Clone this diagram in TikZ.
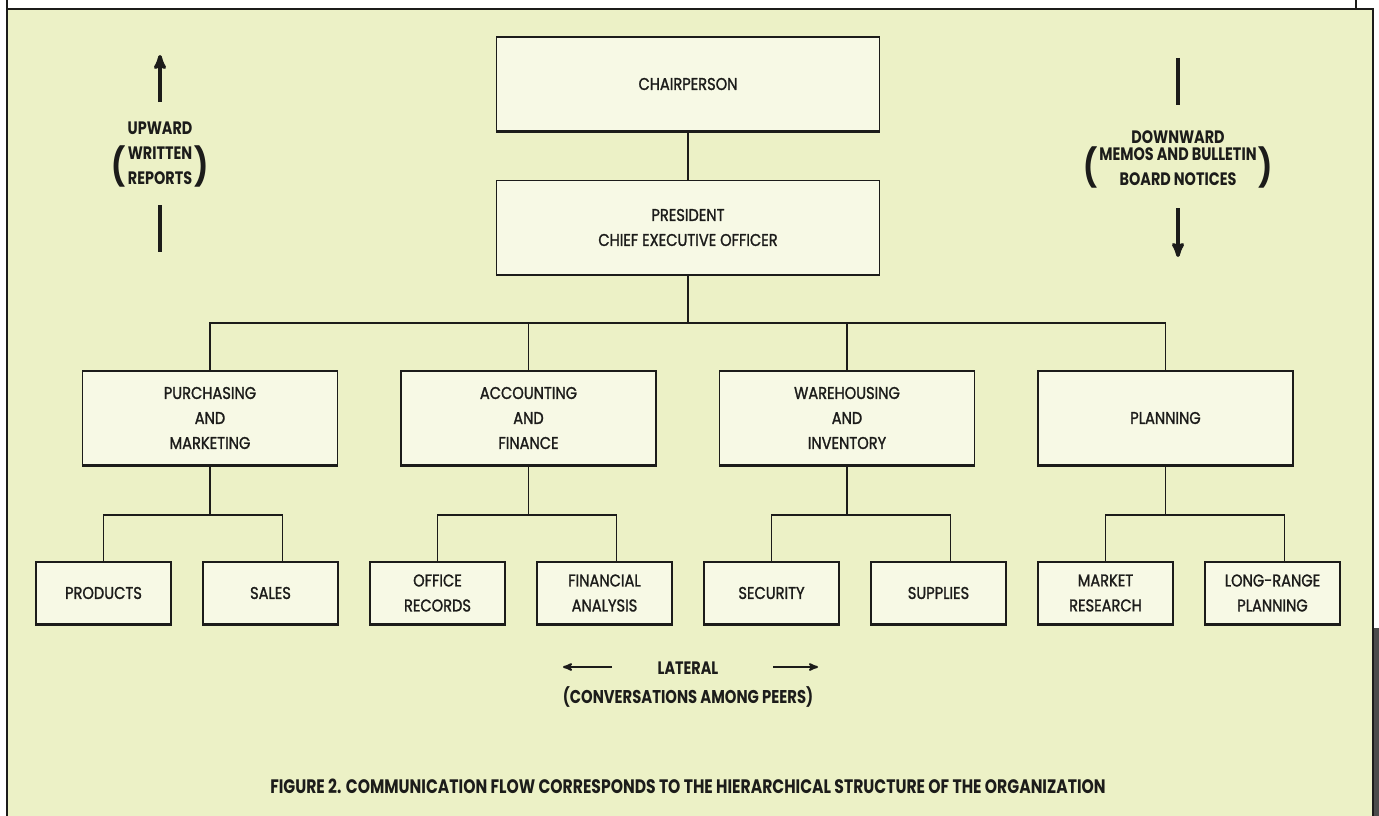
\documentclass[tikz,border=0pt]{standalone}
\usepackage{fontspec}
\setmainfont{Poppins}[FakeStretch=0.86]
\newfontfamily\boxfont{Poppins}[FakeStretch=0.86,FakeBold=1.4]
\newfontfamily\headfont{Poppins}[FakeStretch=0.8]
\usetikzlibrary{arrows}
\usetikzlibrary{positioning}

\definecolor{paper}{RGB}{236,241,198}
\definecolor{boxfill}{RGB}{247,249,229}
\definecolor{ink}{RGB}{28,28,26}

\begin{document}
\begin{tikzpicture}[x=1pt,y=-1pt,>=stealth',on grid,
    ink,line width=1.3pt,
    box/.style={draw,fill=boxfill,align=center,inner sep=0pt,
      font=\boxfont\fontsize{17}{25}\selectfont},
    topbox/.style={box,minimum width=383pt,minimum height=94pt},
    midbox/.style={box,minimum width=255pt,minimum height=94pt},
    lowbox/.style={box,minimum width=135pt,minimum height=62pt},
    lbl/.style={align=center,inner sep=0pt,
      font=\headfont\bfseries\fontsize{18}{25}\selectfont},
    paren/.style={inner sep=1pt,
      font=\headfont\bfseries\fontsize{37}{37}\selectfont},
    flow/.style={line width=3.5pt},
    side/.style={line width=2pt}]
  \useasboundingbox (0,0) rectangle (1379,816);
  \fill[paper] (7,9) rectangle (1373,816);
  \draw[line width=2.5pt] (7,0) -- (7,816);
  \draw[line width=2.5pt] (7,9) -- (1373,9) -- (1373,816);
  \draw[line width=1.5pt] (1356,0) -- (1356,9);
  \fill[black!70] (1374,628) rectangle (1379,816);

  \node[topbox] (chair) at (688,84) {CHAIRPERSON};
  \node[topbox] (pres) [below=143.5pt of chair] {PRESIDENT\\CHIEF EXECUTIVE OFFICER};

  \node[midbox] (purch) at (210,418) {PURCHASING\\AND\\MARKETING};
  \node[midbox] (acct) [right=318.5pt of purch] {ACCOUNTING\\AND\\FINANCE};
  \node[midbox] (ware) [right=318.5pt of acct] {WAREHOUSING\\AND\\INVENTORY};
  \node[midbox] (plan) [right=318.5pt of ware] {PLANNING};

  \node[lowbox] (prod) at (103.5,593) {PRODUCTS};
  \node[lowbox] (sales) [right=167pt of prod] {SALES};
  \node[lowbox] (office) [right=167pt of sales] {OFFICE\\RECORDS};
  \node[lowbox] (fin) [right=167pt of office] {FINANCIAL\\ANALYSIS};
  \node[lowbox] (sec) [right=167pt of fin] {SECURITY};
  \node[lowbox] (supp) [right=167pt of sec] {SUPPLIES};
  \node[lowbox] (mkt) [right=167pt of supp] {MARKET\\RESEARCH};
  \node[lowbox] (lrp) [right=167pt of mkt] {LONG-RANGE\\PLANNING};

  \foreach \n in {chair,pres,purch,acct,ware,plan,prod,sales,office,fin,sec,supp,mkt,lrp}
    \draw[line width=2.6pt] (\n.south west) -- (\n.south east);

  \coordinate (bus) at (688,323);
  \coordinate (sub) at (0,515);
  \draw (chair) -- (pres);
  \draw (pres) -- (bus);
  \draw (purch.north) |- (bus) -| (plan.north);
  \draw (acct.north) -- (acct.north |- bus);
  \draw (ware.north) -- (ware.north |- bus);
  \foreach \p/\a/\b in {purch/prod/sales,acct/office/fin,ware/sec/supp,plan/mkt/lrp} {
    \draw (\p.south) -- (\p.south |- sub);
    \draw (\a.north) |- ([xshift=12pt]\b.north |- sub) -- ([xshift=12pt]\b.north);
  }

  \node[lbl] (upw) at (160,128) {UPWARD};
  \node[lbl] (wr) at (160,166) {WRITTEN\\REPORTS};
  \node[paren,anchor=east] (wrl) at (wr.west) {(};
  \node[paren,anchor=west] (wrr) at (wr.east) {)};
  \coordinate (up1) at (160,102);
  \coordinate (up2) at (160,55);
  \coordinate (up3) at (160,205);
  \coordinate (up4) at (160,252);
  \draw[flow,->] (up1) -- (up2);
  \draw[flow] (up3) -- (up4);

  \node[lbl] (dnw) at (1178,137) {DOWNWARD};
  \node[lbl] (memo) at (1178,167) {MEMOS AND BULLETIN\\BOARD NOTICES};
  \node[paren,anchor=east] (memol) at (memo.west) {(};
  \node[paren,anchor=west] (memor) at (memo.east) {)};
  \coordinate (dn1) at (1178,58);
  \coordinate (dn2) at (1178,105);
  \coordinate (dn3) at (1178,208);
  \coordinate (dn4) at (1178,257);
  \draw[flow] (dn1) -- (dn2);
  \draw[flow,->] (dn3) -- (dn4);

  \node[lbl] (lat) at (688,668) {LATERAL};
  \node[lbl,font=\headfont\bfseries\fontsize{18.5}{25}\selectfont] (conv) at (688,697) {(CONVERSATIONS AMONG PEERS)};
  \coordinate (lt1) at (612,667);
  \coordinate (lt2) at (563,667);
  \coordinate (rt1) at (773,667);
  \coordinate (rt2) at (818,667);
  \draw[side,->] (lt1) -- (lt2);
  \draw[side,->] (rt1) -- (rt2);

  \node[lbl,font=\headfont\bfseries\fontsize{19.5}{20}\selectfont] (fig) at (688,786)
    {FIGURE 2. COMMUNICATION FLOW CORRESPONDS TO THE HIERARCHICAL STRUCTURE OF THE ORGANIZATION};
\end{tikzpicture}
\end{document}
